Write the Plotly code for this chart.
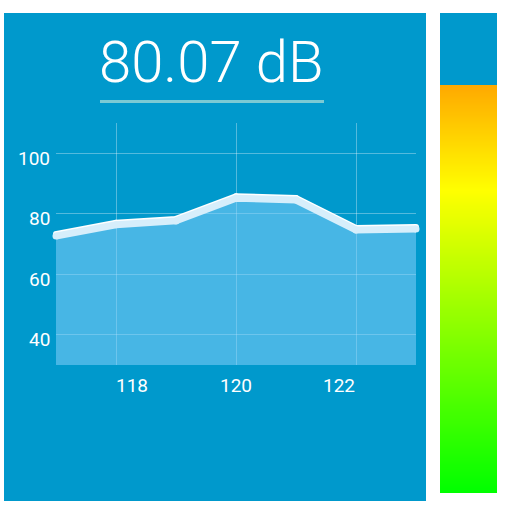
import plotly.graph_objects as go

W = H = 512


def px(x):
    return x / W


def py(y):
    return 1 - y / H


# ---- data ----
time_s = [117, 118, 119, 120, 121, 122, 123]
level_db = [73.3, 77.0, 78.3, 85.8, 85.2, 75.3, 75.6]
reading_label = "80.07 dB"
x_ticks = [118, 120, 122]
x_tick_text = ["118", "120", "122"]
y_ticks = [40, 60, 80, 100]
y_tick_text = ["40", "60", "80", "100"]

# ---- style ----
BG = "#0099CC"
GRID = "rgba(255,255,255,0.33)"
FILL = "rgba(130,205,250,0.55)"
Y_RANGE = [30, 110]
shadow_shift = 0.66  # ~2 px

fig = go.Figure()

# area fill
fig.add_trace(go.Scatter(x=time_s, y=level_db, mode="lines", fill="tozeroy",
                         fillcolor=FILL, line=dict(width=0), hoverinfo="skip",
                         showlegend=False))
# pale edge below the line
fig.add_trace(go.Scatter(x=time_s, y=level_db, mode="lines+markers", yaxis="y3",
                         line=dict(color="#D6EEFB", width=7),
                         marker=dict(color="#D6EEFB", size=7),
                         cliponaxis=False, showlegend=False))
# white line
fig.add_trace(go.Scatter(x=time_s, y=level_db, mode="lines+markers",
                         line=dict(color="#FFFFFF", width=6),
                         marker=dict(color="#FFFFFF", size=6),
                         cliponaxis=False, showlegend=False))

# gradient level meter
n = 200
grad = [[i / (n - 1), i / (n - 1)] for i in range(n)]
fig.add_trace(go.Heatmap(z=grad, x=[0, 1], y=list(range(n)), xaxis="x2", yaxis="y2",
                         colorscale=[[0, "#00FF00"], [0.743, "#FFFF00"], [1, "#FFAA00"]],
                         zsmooth="best", showscale=False, hoverinfo="skip"))

shapes = [
    dict(type="rect", xref="paper", yref="paper", x0=px(4), x1=px(426), y0=py(501), y1=py(13),
         fillcolor=BG, line=dict(width=0), layer="below"),
    dict(type="rect", xref="paper", yref="paper", x0=px(440), x1=px(497), y0=py(85), y1=py(13),
         fillcolor=BG, line=dict(width=0), layer="above"),
    dict(type="line", xref="paper", yref="paper", x0=px(100), x1=px(324), y0=py(101.5), y1=py(101.5),
         line=dict(color="#7CCAD4", width=3)),
]

annotations = [
    dict(text=reading_label, xref="paper", yref="paper", x=px(211), y=py(62),
         xanchor="center", yanchor="middle", showarrow=False,
         font=dict(family="Roboto", size=58, color="white", weight=300)),
]
label_shift = [16, 0, -17]
for v, t, s in zip(x_ticks, x_tick_text, label_shift):
    annotations.append(dict(text=t, x=v, xref="x", y=py(385), yref="paper",
                            xanchor="center", yanchor="middle", xshift=s, showarrow=False,
                            font=dict(family="Roboto", size=19, color="white")))
for v, t in zip(y_ticks, y_tick_text):
    annotations.append(dict(text=t, x=px(52), xref="paper", y=v, yref="y",
                            xanchor="right", yanchor="middle", yshift=-5, showarrow=False,
                            font=dict(family="Roboto", size=19, color="white")))

fig.update_layout(
    width=W, height=H, margin=dict(l=0, r=0, t=0, b=0),
    paper_bgcolor="white", plot_bgcolor="rgba(0,0,0,0)",
    shapes=shapes, annotations=annotations,
    xaxis=dict(domain=[px(56), px(416)], range=[117, 123], tickvals=x_ticks,
               showticklabels=False, showgrid=True, gridcolor=GRID, gridwidth=1,
               zeroline=False, showline=False, ticks=""),
    yaxis=dict(domain=[py(365), py(123)], range=Y_RANGE, tickvals=y_ticks,
               showticklabels=False, showgrid=True, gridcolor=GRID, gridwidth=1,
               zeroline=False, showline=False, ticks=""),
    yaxis3=dict(overlaying="y", range=[Y_RANGE[0] + shadow_shift, Y_RANGE[1] + shadow_shift],
                visible=False),
    xaxis2=dict(domain=[px(440), px(497)], visible=False, range=[0, 1]),
    yaxis2=dict(domain=[py(493), py(85)], visible=False, range=[-0.5, n - 0.5]),
)

fig.write_html("out.html", config={"displayModeBar": False},
               post_script="document.body.style.margin='0';document.body.style.overflow='hidden';")
